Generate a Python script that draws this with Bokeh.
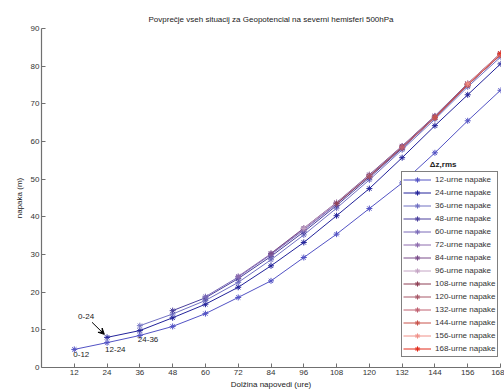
from bokeh.plotting import figure
from bokeh.models import (Range1d, FixedTicker, Legend, LegendItem, Label, Arrow, VeeHead)
from bokeh.embed import file_html
from bokeh.resources import INLINE

hours = [12, 24, 36, 48, 60, 72, 84, 96, 108, 120, 132, 144, 156, 168]
y_ticks = [0, 10, 20, 30, 40, 50, 60, 70, 80, 90]

s1 = [4.8, 6.6, 8.5, 10.9, 14.3, 18.6, 23.0, 29.2, 35.4, 42.2, 49.0, 57.0, 65.5, 73.6]
s2 = [8.0, 9.8, 13.2, 16.8, 21.3, 27.0, 33.2, 40.3, 47.5, 55.7, 64.2, 72.4, 80.6]
s3 = [11.1, 14.2, 17.8, 22.6, 28.6, 35.2, 42.3, 49.8, 57.8, 65.9, 74.5, 82.4]
s4 = [15.1, 18.5, 23.6, 29.5, 36.0, 43.0, 50.4, 58.2, 66.4, 75.0, 83.0]
s5 = [18.8, 24.0, 30.0, 36.5, 43.4, 50.9, 58.5, 66.6, 75.2, 83.2]
s6 = [24.2, 30.2, 36.8, 43.6, 51.0, 58.7, 66.7, 75.3, 83.3]
s7 = [30.3, 37.0, 43.8, 51.2, 58.8, 66.8, 75.4, 83.4]
s8 = [36.9, 43.7, 51.0, 58.6, 66.6, 75.2, 83.2]
s9 = [43.5, 50.8, 58.5, 66.5, 75.0, 83.0]
s10 = [50.7, 58.4, 66.4, 75.0, 83.0]
s11 = [58.4, 66.3, 75.1, 82.9]
s12 = [66.3, 75.2, 83.1]
s13 = [75.3, 83.3]
s14 = [83.4]
series = [s1, s2, s3, s4, s5, s6, s7, s8, s9, s10, s11, s12, s13, s14]
labels = ["%d-urne napake" % h for h in hours]
colors = ["#5252c4", "#22229a", "#7070c2", "#4a3f9c", "#7a6ab8", "#8e6cae", "#7a4d8a",
          "#c4a4c4", "#8e3f55", "#a85868", "#c06070", "#c8524a", "#f09088", "#e22a1a"]

FONT = "Liberation Sans"

p = figure(width=504, height=392, output_backend="svg", toolbar_location=None,
           x_range=Range1d(0, 168), y_range=Range1d(0, 90),
           min_border_left=41, min_border_right=4, min_border_top=28, min_border_bottom=25)
p.outline_line_color = None
p.grid.visible = False
p.background_fill_color = "white"

p.title.text = "Povprečje vseh situacij za Geopotencial na severni hemisferi 500hPa"
p.title.align = "center"
p.title.text_font = FONT
p.title.text_font_size = "8px"
p.title.text_font_style = "normal"
p.title.text_color = "#222222"
p.title.standoff = 9

for ax in (p.xaxis[0], p.yaxis[0]):
    ax.axis_line_color = "#707070"
    ax.axis_line_width = 1.2
    ax.major_tick_line_color = "#707070"
    ax.major_tick_in = 4
    ax.major_tick_out = 0
    ax.minor_tick_line_color = None
    ax.major_label_text_font = FONT
    ax.major_label_text_font_size = "8px"
    ax.major_label_text_color = "#333333"
    ax.axis_label_text_font = FONT
    ax.axis_label_text_font_size = "8px"
    ax.axis_label_text_font_style = "normal"
    ax.axis_label_text_color = "#222222"
    ax.major_label_standoff = 2
    ax.axis_label_standoff = 2

p.xaxis.ticker = FixedTicker(ticks=hours)
p.yaxis.ticker = FixedTicker(ticks=y_ticks)
p.xaxis.axis_label = "Dolžina napovedi (ure)"
p.yaxis.axis_label = "napaka (m)"
p.yaxis[0].axis_label_standoff = 4

items = []
for k, (vals, lab, col) in enumerate(zip(series, labels, colors)):
    xs = hours[k:k + len(vals)]
    r1 = p.line(xs, vals, line_color=col, line_width=1)
    r2 = p.scatter(xs, vals, marker="asterisk", size=6, line_color=col, line_width=1)
    items.append(LegendItem(label=lab, renderers=[r1, r2]))

legend = Legend(items=items, location=(360, 10), orientation="vertical",
                label_text_font=FONT, label_text_font_size="8px", label_text_color="#333333",
                glyph_width=28, glyph_height=13, label_height=13, label_standoff=4,
                spacing=0, padding=1, margin=0,
                border_line_color="black", border_line_width=1,
                background_fill_color="white", background_fill_alpha=1)
p.add_layout(legend, "center")

p.add_layout(Label(x=147, y=53.8, text="Δz,rms", text_font=FONT, text_font_size="8px",
                   text_font_style="bold", text_align="center", text_baseline="middle",
                   text_color="#222222"))

lab_style = dict(text_font=FONT, text_font_size="8px", text_color="#222222")
p.add_layout(Label(x=hours[0], y=s1[0], text="0-12", text_align="left", text_baseline="top",
                   x_offset=-1, y_offset=-3, **lab_style))
p.add_layout(Label(x=hours[1], y=s1[1], text="12-24", text_align="left", text_baseline="top",
                   x_offset=-2, y_offset=-4, **lab_style))
p.add_layout(Label(x=hours[2], y=s1[2], text="24-36", text_align="left", text_baseline="top",
                   x_offset=-2, y_offset=-2, **lab_style))
p.add_layout(Label(x=hours[1], y=s2[0], text="0-24", text_align="center", text_baseline="middle",
                   x_offset=-21, y_offset=21, **lab_style))
p.add_layout(Arrow(x_start=hours[1] - 5.5, y_start=s2[0] + 4.0,
                   x_end=hours[1] - 1.0, y_end=s2[0] + 0.8,
                   line_color="black", line_width=1,
                   end=VeeHead(size=6, fill_color="black", line_color="black")))

open("out.html", "w").write(file_html(p, INLINE))
